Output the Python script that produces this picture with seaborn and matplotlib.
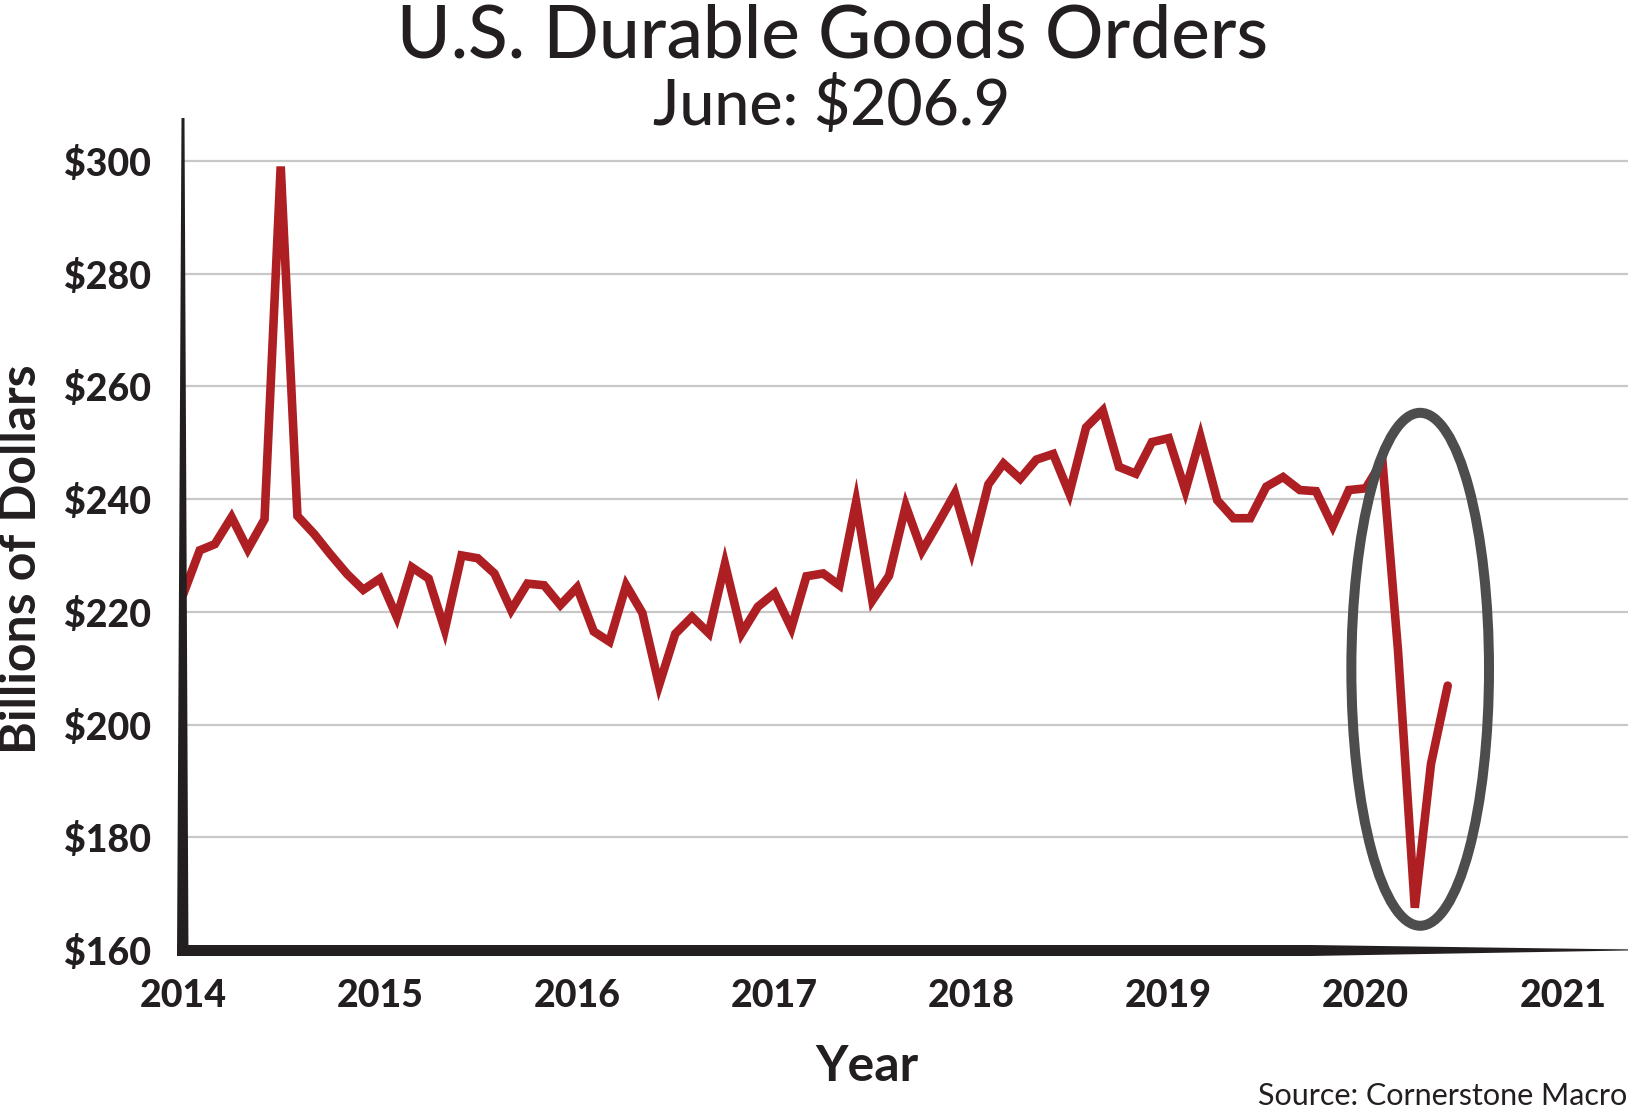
import pandas as pd
import matplotlib
matplotlib.use("Agg")
import matplotlib.pyplot as plt
import matplotlib.dates as mdates
from matplotlib.patches import Ellipse, Polygon
import seaborn as sns

# Monthly durable goods new orders, billions of dollars
orders_2014 = [223.0, 230.9, 232.0, 236.8, 231.1, 236.4, 299.0, 237.0, 233.8, 230.2, 226.7, 223.9]
orders_2015 = [225.9, 219.1, 227.9, 225.9, 216.8, 230.0, 229.5, 226.8, 220.3, 225.0, 224.7, 221.2]
orders_2016 = [224.3, 216.5, 214.7, 224.7, 219.8, 207.0, 216.1, 219.1, 216.2, 228.5, 216.2, 220.9]
orders_2017 = [223.3, 217.1, 226.3, 226.8, 224.7, 239.5, 222.0, 226.4, 238.8, 230.8, 235.9, 241.0]
orders_2018 = [230.8, 242.6, 246.3, 243.6, 247.0, 248.0, 241.0, 252.7, 255.7, 245.7, 244.5, 250.1]
orders_2019 = [250.8, 241.5, 251.0, 239.8, 236.6, 236.6, 242.2, 243.9, 241.6, 241.4, 235.2, 241.6]
orders_2020 = [241.9, 246.8, 213.0, 167.5, 193.0, 206.9]

values = orders_2014 + orders_2015 + orders_2016 + orders_2017 + orders_2018 + orders_2019 + orders_2020
months = pd.date_range("2014-01-01", periods=len(values), freq="MS")
df = pd.DataFrame({"month": months, "orders": values})

y_ticks = [160, 180, 200, 220, 240, 260, 280, 300]
y_tick_labels = ["$" + str(v) for v in y_ticks]

title = "U.S. Durable Goods Orders"
subtitle = "June: $206.9"
source = "Source: Cornerstone Macro"

# highlight around the 2020 drop
circle_center = (pd.Timestamp("2020-04-11"), 209.8)
circle_width_days = 255
circle_height = 91

RED = "#ae1f24"
DARK = "#231f20"
GRAY = "#4d4d4d"

sns.set_style("white")
plt.rcParams["font.family"] = ["Lato", "DejaVu Sans"]

W, H = 1630, 1114
fig = plt.figure(figsize=(W / 100, H / 100), dpi=100)
ax_l, ax_b, ax_w, ax_h = 183, 950, 1445, 832
ax = fig.add_axes([ax_l / W, 1 - ax_b / H, ax_w / W, ax_h / H])

sns.lineplot(data=df, x="month", y="orders", ax=ax, color=RED, linewidth=6.2,
             solid_joinstyle="miter", zorder=3)

ax.set_xlim(pd.Timestamp("2014-01-01"), pd.Timestamp("2021-05-01"))
ax.set_ylim(160, 307.6)
ax.xaxis.set_major_locator(mdates.YearLocator())
ax.xaxis.set_major_formatter(mdates.DateFormatter("%Y"))
ax.set_yticks(y_ticks, y_tick_labels)

ax.grid(axis="y", color="#c8c8c8", linewidth=1.6)
ax.grid(axis="x", visible=False)
ax.set_axisbelow(True)
sns.despine(ax=ax, left=True, bottom=True)

ax.tick_params(axis="y", direction="out", length=17, width=2.2, color=DARK, pad=6,
               labelsize=27, labelcolor=DARK)
ax.tick_params(axis="x", direction="out", length=14, width=2.5, color=DARK, pad=7,
               labelsize=27, labelcolor=DARK)
for lbl in ax.get_xticklabels() + ax.get_yticklabels():
    lbl.set_fontweight("black")

ax.set_xlabel("")
ax.set_ylabel("")

# tapered axis lines
px = 1 / ax_w
py = 1 / ax_h
left_spine = Polygon([(-6 * px, -6 * py), (5.5 * px, -6 * py), (1.5 * px, 1), (-1.5 * px, 1)],
                     closed=True, transform=ax.transAxes, clip_on=False,
                     facecolor=DARK, edgecolor="none", zorder=5)
bottom_spine = Polygon([(-6 * px, -6 * py), (1127 * px, -6 * py), (1, -0.5 * py),
                        (1, 0.5 * py), (1127 * px, 5 * py), (-6 * px, 5 * py)],
                       closed=True, transform=ax.transAxes, clip_on=False,
                       facecolor=DARK, edgecolor="none", zorder=5)
ax.add_patch(left_spine)
ax.add_patch(bottom_spine)

cx = mdates.date2num(circle_center[0])
ax.add_patch(Ellipse((cx, circle_center[1]), width=circle_width_days, height=circle_height,
                     facecolor="none", edgecolor=GRAY, linewidth=7.2, zorder=4))

fig.text(0.511, 1 - 57 / H, title, ha="center", va="baseline", fontsize=52.5,
         fontweight="medium", color=DARK)
fig.text(0.510, 1 - 125 / H, subtitle, ha="center", va="baseline", fontsize=45,
         fontweight="medium", color=DARK)
fig.text(22 / W, 1 - 559 / H, "Billions of Dollars", rotation=90, ha="center", va="center",
         fontsize=36, fontweight="bold", color=DARK)
fig.text(867 / W, 1 - 1081 / H, "Year", ha="center", va="baseline",
         fontsize=36, fontweight="bold", color=DARK)
fig.text(1627 / W, 1 - 1105 / H, source, ha="right", va="baseline", fontsize=22,
         color=DARK)

fig.savefig("out.png", dpi=100)
